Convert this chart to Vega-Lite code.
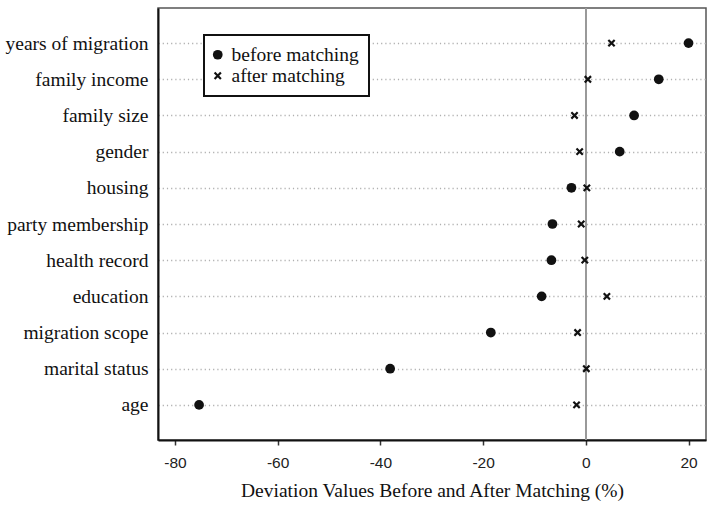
{
  "$schema": "https://vega.github.io/schema/vega-lite/v6.json",
  "width": 548,
  "height": 432,
  "autosize": {"type": "none"},
  "padding": {"left": 158, "top": 8, "right": 6, "bottom": 72},
  "background": "white",
  "config": {
    "view": {"stroke": "#555555", "strokeWidth": 1.5},
    "axis": {"domainColor": "#111111", "domainWidth": 2},
    "legend": {
      "orient": "none",
      "legendX": 46,
      "legendY": 27,
      "direction": "vertical",
      "strokeColor": "#111111",
      "strokeWidth": 2,
      "fillColor": "white",
      "padding": 10,
      "labelFont": "Liberation Serif",
      "labelFontSize": 19.5,
      "labelColor": "#111111",
      "labelOffset": 4,
      "symbolOffset": -6,
      "rowPadding": 0,
      "titlePadding": 2,
      "symbolOpacity": 1
    }
  },
  "data": {
    "values": [
      {"variable": "years of migration", "stage": "before matching", "value": 20.0},
      {"variable": "years of migration", "stage": "after matching", "value": 5.0},
      {"variable": "family income", "stage": "before matching", "value": 14.2},
      {"variable": "family income", "stage": "after matching", "value": 0.4},
      {"variable": "family size", "stage": "before matching", "value": 9.4},
      {"variable": "family size", "stage": "after matching", "value": -2.2},
      {"variable": "gender", "stage": "before matching", "value": 6.6},
      {"variable": "gender", "stage": "after matching", "value": -1.2},
      {"variable": "housing", "stage": "before matching", "value": -2.8},
      {"variable": "housing", "stage": "after matching", "value": 0.2},
      {"variable": "party membership", "stage": "before matching", "value": -6.5},
      {"variable": "party membership", "stage": "after matching", "value": -0.9},
      {"variable": "health record", "stage": "before matching", "value": -6.7},
      {"variable": "health record", "stage": "after matching", "value": -0.2},
      {"variable": "education", "stage": "before matching", "value": -8.6},
      {"variable": "education", "stage": "after matching", "value": 4.1},
      {"variable": "migration scope", "stage": "before matching", "value": -18.5},
      {"variable": "migration scope", "stage": "after matching", "value": -1.6},
      {"variable": "marital status", "stage": "before matching", "value": -38.1},
      {"variable": "marital status", "stage": "after matching", "value": 0.1},
      {"variable": "age", "stage": "before matching", "value": -75.3},
      {"variable": "age", "stage": "after matching", "value": -1.8}
    ]
  },
  "layer": [
    {
      "mark": {"type": "rule", "color": "#9a9a9a", "strokeWidth": 1.5},
      "encoding": {
        "x": {"datum": 0, "type": "quantitative"}
      }
    },
    {
      "mark": {"type": "point", "stroke": "#111111", "opacity": 1},
      "encoding": {
        "y": {
          "field": "variable",
          "type": "nominal",
          "sort": null,
          "scale": {"type": "point", "padding": 0.97},
          "axis": {
            "title": null,
            "ticks": false,
            "labelFont": "Liberation Serif",
            "labelFontSize": 19.5,
            "labelColor": "#111111",
            "labelPadding": 10,
            "grid": true,
            "gridColor": "#b0b0b0",
            "gridDash": [1.2, 3],
            "gridWidth": 1.3
          }
        },
        "x": {
          "field": "value",
          "type": "quantitative",
          "scale": {"domain": [-83.3, 23.4], "nice": false, "zero": false},
          "axis": {
            "values": [-80, -60, -40, -20, 0, 20],
            "labelExpr": "'' + datum.value",
            "title": "Deviation Values Before and After Matching (%)",
            "titleFont": "Liberation Serif",
            "titleFontSize": 19.5,
            "titleFontWeight": "normal",
            "titleColor": "#111111",
            "titlePadding": 11,
            "labelFont": "Liberation Sans",
            "labelFontSize": 15.5,
            "labelColor": "#222222",
            "labelPadding": 10,
            "tickSize": 5,
            "tickColor": "#333333",
            "tickWidth": 1.5,
            "grid": false
          }
        },
        "shape": {
          "field": "stage",
          "type": "nominal",
          "scale": {
            "domain": ["before matching", "after matching"],
            "range": ["circle", "M-1,-1L1,1M-1,1L1,-1"]
          },
          "legend": {"title": null}
        },
        "fill": {
          "field": "stage",
          "type": "nominal",
          "scale": {
            "domain": ["before matching", "after matching"],
            "range": ["#111111", "transparent"]
          },
          "legend": {"title": null}
        },
        "size": {
          "field": "stage",
          "type": "nominal",
          "scale": {
            "domain": ["before matching", "after matching"],
            "range": [95, 40]
          },
          "legend": {"title": null}
        },
        "strokeWidth": {
          "field": "stage",
          "type": "nominal",
          "scale": {
            "domain": ["before matching", "after matching"],
            "range": [0, 2.2]
          },
          "legend": {"title": null}
        }
      }
    }
  ]
}
